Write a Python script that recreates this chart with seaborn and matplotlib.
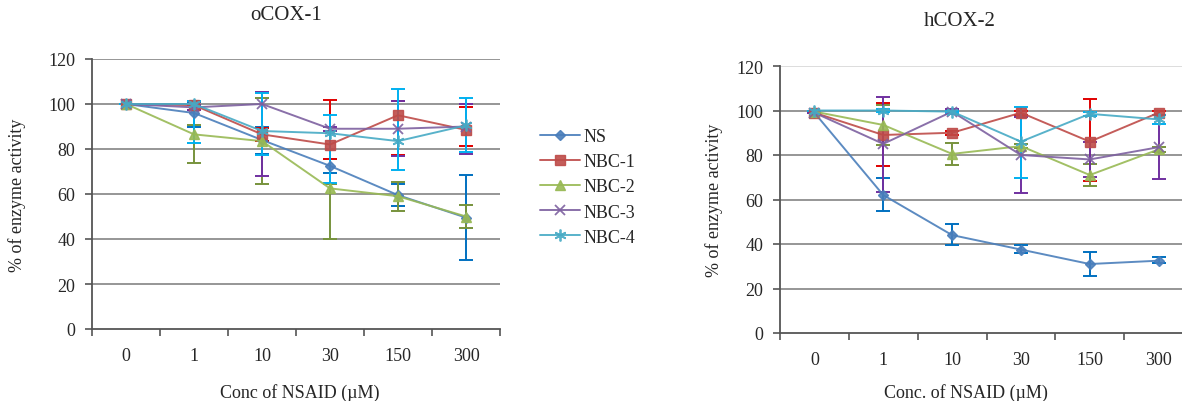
import numpy as np
import pandas as pd
import seaborn as sns
import matplotlib
matplotlib.use("Agg")
import matplotlib.pyplot as plt
from matplotlib.ticker import FixedLocator, NullFormatter, FixedFormatter

# ---------------- data ----------------
conc_labels = ["0", "1", "10", "30", "150", "300"]
series_names = ["NS", "NBC-1", "NBC-2", "NBC-3", "NBC-4"]

# oCOX-1 (% of enzyme activity)
cox1_ns = [100, 96, 84, 72.5, 59.5, 49.5]
cox1_nbc1 = [100, 99.5, 86.5, 82, 95, 88.5]
cox1_nbc2 = [100, 86.5, 83.5, 62.5, 59, 50]
cox1_nbc3 = [100, 98.5, 100, 89, 89, 90]
cox1_nbc4 = [100, 100, 88, 87, 83.5, 90.5]
# error bar extents (below, above)
cox1_ns_err = [[0, 6, 6, 3, 5, 19], [0, 5, 6, 3, 5, 19]]
cox1_nbc1_err = [[0, 2, 3, 6.5, 17.5, 7], [0, 2, 3, 20, 6.5, 10]]
cox1_nbc2_err = [[0, 12.5, 19, 22.5, 6.5, 5], [0, 4, 19, 2, 6.5, 5]]
cox1_nbc3_err = [[0, 1, 32, 1, 12, 12], [0, 1, 5.5, 1, 12.5, 10]]
cox1_nbc4_err = [[0, 17.5, 10.5, 22, 13, 12], [0, 1.5, 17, 8, 23, 12]]

# hCOX-2 (% of enzyme activity)
cox2_ns = [99, 62, 44, 37.5, 31, 32.5]
cox2_nbc1 = [99, 89, 90, 99, 86, 99]
cox2_nbc2 = [99.5, 93.5, 80.5, 84, 71, 82.5]
cox2_nbc3 = [99, 85, 99.5, 80, 78, 83.5]
cox2_nbc4 = [100, 100, 99.5, 86, 98.5, 96]
cox2_ns_err = [[0, 7, 4.5, 1.5, 5.5, 1], [0, 7.5, 5, 2, 5.5, 1.5]]
cox2_nbc1_err = [[0, 14, 1, 1, 17.5, 1], [0, 14.5, 1, 1, 19, 1]]
cox2_nbc2_err = [[0, 9, 5, 1, 5, 1], [0, 9, 5, 1, 5, 1]]
cox2_nbc3_err = [[0, 21.5, 1, 17, 8, 14.5], [0, 21, 1, 17, 8, 14.5]]
cox2_nbc4_err = [[0, 0.5, 0.5, 16.5, 1, 2], [0, 0.5, 0.5, 15.5, 1, 2]]

panel_titles = ["oCOX-1", "hCOX-2"]
x_titles = ["Conc of NSAID (\u00b5M)", "Conc. of NSAID (\u00b5M)"]
y_title = "% of enzyme activity"

# ---------------- style ----------------
sns.set_theme(style="white")
plt.rcParams["font.family"] = ["Liberation Serif", "DejaVu Serif"]
plt.rcParams["legend.numpoints"] = 1

line_colors = ["#4A7EBB", "#BE4B48", "#98B954", "#7D60A0", "#46AAC5"]
err_colors = ["#0070C0", "#E00000", "#77933C", "#7030A0", "#00B0F0"]
markers = ["D", "s", "^", "x", (6, 2, 0)]
msizes = [5, 7.5, 7, 6.5, 8.5]
mews = [1, 1, 1, 1.3, 1.3]

panels = [
    ([cox1_ns, cox1_nbc1, cox1_nbc2, cox1_nbc3, cox1_nbc4],
     [cox1_ns_err, cox1_nbc1_err, cox1_nbc2_err, cox1_nbc3_err, cox1_nbc4_err]),
    ([cox2_ns, cox2_nbc1, cox2_nbc2, cox2_nbc3, cox2_nbc4],
     [cox2_ns_err, cox2_nbc1_err, cox2_nbc2_err, cox2_nbc3_err, cox2_nbc4_err]),
]

W, H = 1182, 402
fig = plt.figure(figsize=(W / 100, H / 100), dpi=100)
ax_rects = [
    [92 / W, 1 - 330 / H, 408 / W, 270 / H],
    [780 / W, 1 - 334 / H, 413 / W, 267 / H],
]
title_xy = [(286 / W, 1 - 15 / H), (960 / W, 1 - 21 / H)]
xlabel_xy = [(300 / W, 1 - 393 / H), (966 / W, 1 - 393 / H)]
ylabel_x = [17 / W, 714 / W]

pos = np.arange(len(conc_labels))
axes = []
for p, (vals, errs) in enumerate(panels):
    ax = fig.add_axes(ax_rects[p])
    axes.append(ax)
    rows = []
    for name, v in zip(series_names, vals):
        for i, y in enumerate(v):
            rows.append({"pos": pos[i], "conc": conc_labels[i], "value": y, "series": name})
    df = pd.DataFrame(rows)

    # gridlines
    ax.set_ylim(0, 120)
    ax.set_xlim(-0.5, 5.5)
    ax.set_yticks(np.arange(0, 121, 20))
    for gy in range(20, 121, 20):
        gc = "#DADADA" if (p == 1 and gy == 120) else "#8E8E8E"
        ax.axhline(gy, color=gc, lw=1.3, zorder=0)

    for k, name in enumerate(series_names):
        sub = df[df["series"] == name]
        lo, hi = errs[k]
        ax.errorbar(sub["pos"], sub["value"], yerr=[lo, hi], fmt="none",
                    ecolor=err_colors[k], elinewidth=1.4, capsize=5, capthick=1.4,
                    zorder=2 + k * 0.1)
        sns.lineplot(data=sub, x="pos", y="value", ax=ax, color=line_colors[k],
                     marker=markers[k], markersize=msizes[k], markeredgewidth=mews[k],
                     markeredgecolor=line_colors[k], linewidth=1.4, alpha=0.9,
                     label=name, legend=False, zorder=3 + k * 0.1, errorbar=None)

    # axes styling
    for s in ["top", "right"]:
        ax.spines[s].set_visible(False)
    for s in ["left", "bottom"]:
        ax.spines[s].set_color("#555555")
        ax.spines[s].set_linewidth(1.3)
    ax.xaxis.set_major_locator(FixedLocator(np.arange(-0.5, 6, 1)))
    ax.xaxis.set_major_formatter(NullFormatter())
    ax.xaxis.set_minor_locator(FixedLocator(pos))
    ax.xaxis.set_minor_formatter(FixedFormatter(conc_labels))
    ax.tick_params(axis="x", which="major", direction="out", length=5, width=1.2,
                   color="#555555", bottom=True)
    ax.tick_params(axis="x", which="minor", length=0, pad=13, labelsize=13,
                   bottom=True)
    ax.tick_params(axis="y", direction="out", length=5, width=1.2, color="#555555",
                   pad=7, labelsize=13, left=True)
    ax.set_xlabel("")
    ax.set_ylabel("")
    ax.grid(False)
    ax.set_facecolor("white")

    fig.text(title_xy[p][0], title_xy[p][1], panel_titles[p], ha="center",
             va="center", fontsize=15)
    fig.text(xlabel_xy[p][0], xlabel_xy[p][1], x_titles[p], ha="center",
             va="center", fontsize=13)
    mid_y = ax_rects[p][1] + ax_rects[p][3] / 2
    fig.text(ylabel_x[p], mid_y, y_title, ha="center", va="center",
             rotation=90, fontsize=13)

handles, labels = axes[0].get_legend_handles_labels()
fig.legend(handles, labels, loc="upper left", bbox_to_anchor=(533 / W, 1 - 122 / H),
           frameon=False, fontsize=13, handlelength=2.2, handletextpad=0.2,
           labelspacing=0.45, borderaxespad=0)

fig.savefig("out.png", dpi=100, facecolor="white")
